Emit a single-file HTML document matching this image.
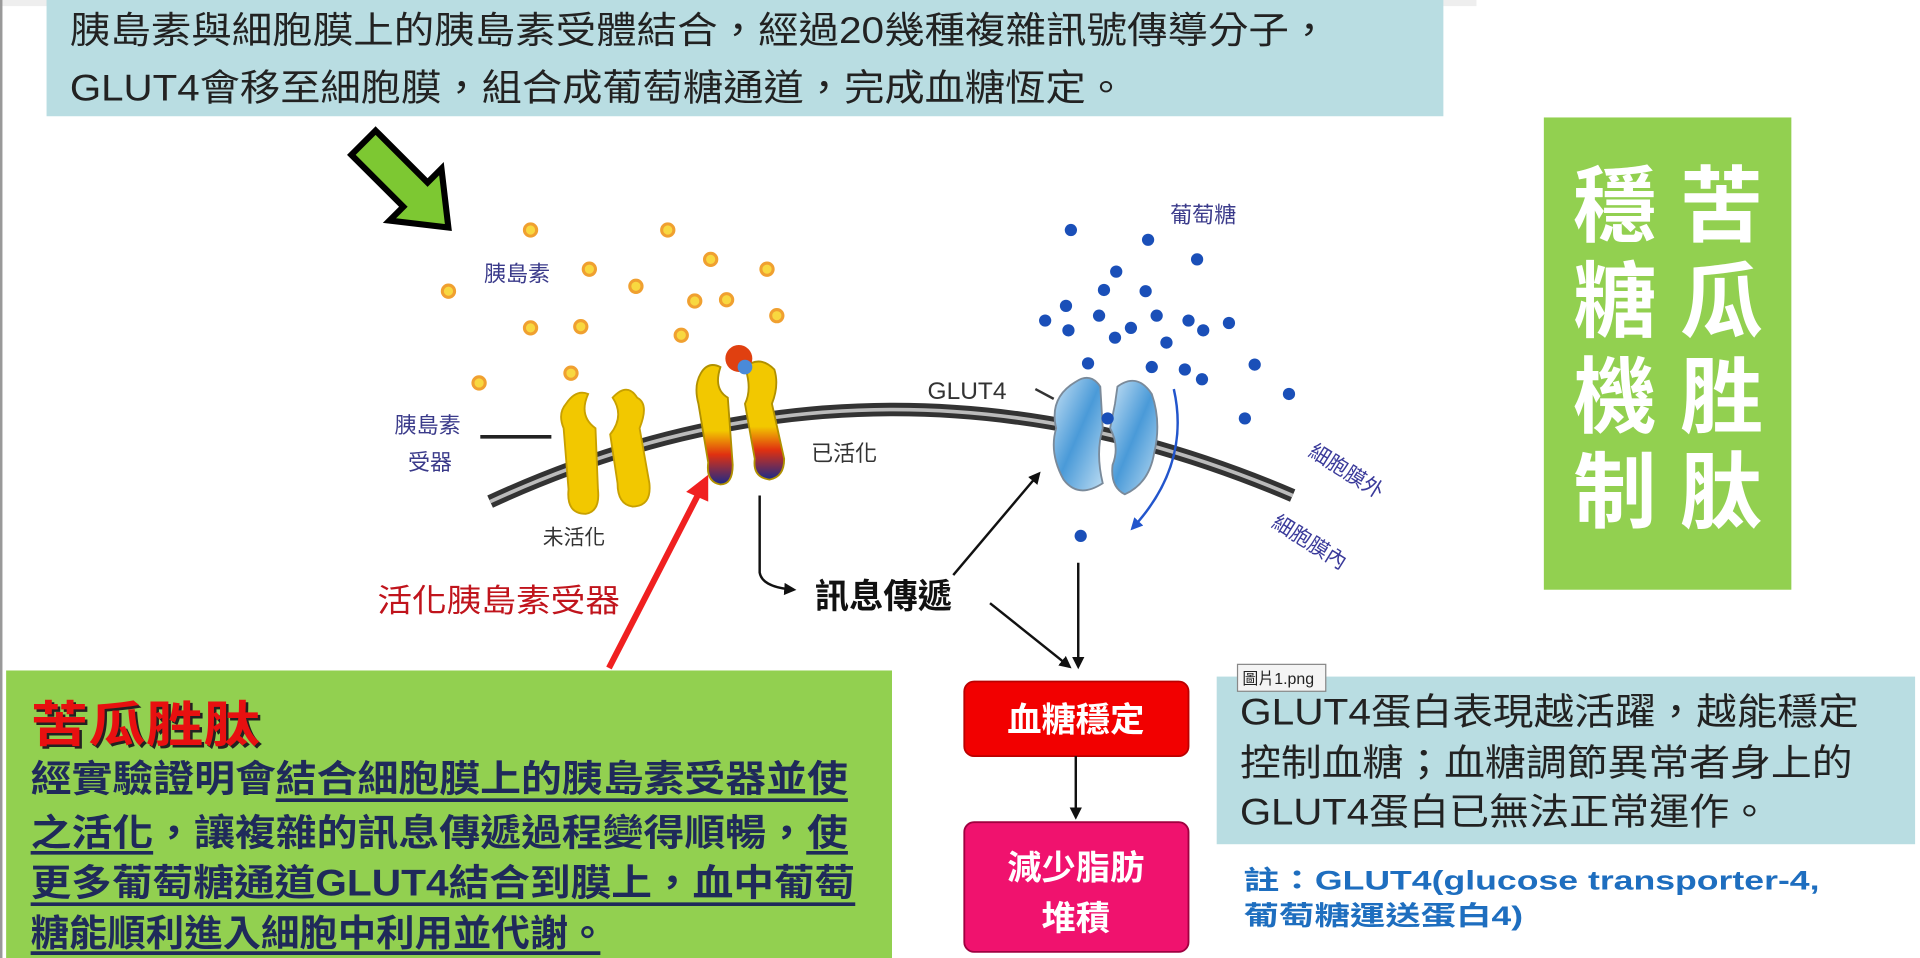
<!DOCTYPE html>
<html><head><meta charset="utf-8"><style>
html,body{margin:0;padding:0;background:#fff;width:1920px;height:958px;overflow:hidden}
svg{display:block}
text{font-family:"Liberation Sans","Noto Sans CJK TC",sans-serif}
</style></head><body>
<svg width="1920" height="958" viewBox="0 0 1567 783" preserveAspectRatio="none" xmlns="http://www.w3.org/2000/svg">
<defs>
<marker id="ah" markerWidth="10" markerHeight="10" refX="8" refY="5" orient="auto" markerUnits="userSpaceOnUse"><path d="M0,0 L10,5 L0,10 z" fill="#111"/></marker>
<marker id="ahb" markerWidth="10" markerHeight="10" refX="8" refY="5" orient="auto" markerUnits="userSpaceOnUse"><path d="M0,0 L10,5 L0,10 z" fill="#2255cc"/></marker>
<linearGradient id="act" x1="0" y1="0" x2="0" y2="1"><stop offset="0.55" stop-color="#f2c800"/><stop offset="0.75" stop-color="#e03010"/><stop offset="1" stop-color="#1a2a8a"/></linearGradient>
<linearGradient id="gl" x1="0" y1="0" x2="1" y2="1"><stop offset="0" stop-color="#c8e2f5"/><stop offset="0.5" stop-color="#4a9ad8"/><stop offset="1" stop-color="#bcdcf2"/></linearGradient>
</defs>
<rect x="0" y="0" width="1205" height="5" fill="#eeeeee"/>
<rect x="0" y="0" width="2" height="783" fill="#999"/>
<!-- top box -->
<rect x="38" y="0" width="1140" height="95" fill="#b9dde2"/>
<text x="57" y="35" font-size="30" fill="#222" textLength="1028" lengthAdjust="spacingAndGlyphs">胰島素與細胞膜上的胰島素受體結合，經過20幾種複雜訊號傳導分子，</text>
<text x="57" y="82" font-size="30" fill="#222" textLength="862" lengthAdjust="spacingAndGlyphs">GLUT4會移至細胞膜，組合成葡萄糖通道，完成血糖恆定。</text>
<!-- green arrow -->
<g transform="translate(332,152) rotate(45)">
<polygon points="-50,-14 10,-14 10,-30 48,0 10,30 10,14 -50,14" fill="#7dc832" stroke="#000" stroke-width="5"/>
</g>
<!-- membrane -->
<path d="M400,410 Q720,262 1055,405" fill="none" stroke="#333" stroke-width="11"/>
<path d="M400,410 Q720,262 1055,405" fill="none" stroke="#bbb" stroke-width="3"/>
<!-- insulin -->
<g fill="#f8d840" stroke="#f0a030" stroke-width="2.5">
<circle cx="433" cy="188" r="5"/><circle cx="545" cy="188" r="5"/><circle cx="580" cy="212" r="5"/><circle cx="626" cy="220" r="5"/><circle cx="366" cy="238" r="5"/><circle cx="481" cy="220" r="5"/><circle cx="519" cy="234" r="5"/><circle cx="567" cy="246" r="5"/><circle cx="593" cy="245" r="5"/><circle cx="634" cy="258" r="5"/><circle cx="433" cy="268" r="5"/><circle cx="474" cy="267" r="5"/><circle cx="556" cy="274" r="5"/><circle cx="391" cy="313" r="5"/><circle cx="466" cy="305" r="5"/>
</g>
<text x="395" y="230" font-size="18" fill="#3a3a8a">胰島素</text>
<!-- glucose -->
<g fill="#1a4fb8">
<circle cx="874" cy="188" r="5"/><circle cx="937" cy="196" r="5"/><circle cx="911" cy="222" r="5"/><circle cx="977" cy="212" r="5"/><circle cx="870" cy="250" r="5"/><circle cx="901" cy="237" r="5"/><circle cx="935" cy="238" r="5"/><circle cx="853" cy="262" r="5"/><circle cx="872" cy="270" r="5"/><circle cx="897" cy="258" r="5"/><circle cx="944" cy="258" r="5"/><circle cx="970" cy="262" r="5"/><circle cx="1003" cy="264" r="5"/><circle cx="910" cy="276" r="5"/><circle cx="923" cy="268" r="5"/><circle cx="952" cy="280" r="5"/><circle cx="982" cy="270" r="5"/><circle cx="888" cy="297" r="5"/><circle cx="940" cy="300" r="5"/><circle cx="967" cy="302" r="5"/><circle cx="981" cy="310" r="5"/><circle cx="1024" cy="298" r="5"/><circle cx="1052" cy="322" r="5"/><circle cx="1016" cy="342" r="5"/><circle cx="891" cy="392" r="5"/><circle cx="882" cy="438" r="5"/>
</g>
<text x="955" y="182" font-size="18" fill="#3a3a8a">葡萄糖</text>
<!-- receptors inactive -->
<path d="M462,330 Q470,318 480,322 Q472,340 486,350 L488,400 Q490,418 478,420 Q462,420 464,400 L460,350 Q455,338 462,330z" fill="#f2c800" stroke="#c8a000" stroke-width="1.5"/>
<path d="M500,325 Q512,312 520,325 Q530,330 522,350 L530,395 Q532,414 516,414 Q504,412 504,395 L498,355 Q510,340 500,325z" fill="#f2c800" stroke="#c8a000" stroke-width="1.5"/>
<!-- receptors active -->
<path d="M572,305 Q578,295 588,300 Q582,318 594,325 L598,380 Q598,396 588,396 Q576,394 578,378 L570,330 Q566,315 572,305z" fill="url(#act)" stroke="#b09000" stroke-width="1.5"/>
<path d="M608,300 Q620,290 632,302 Q636,315 630,330 L640,375 Q640,390 628,392 Q614,390 616,375 L608,330 Q614,318 608,300z" fill="url(#act)" stroke="#b09000" stroke-width="1.5"/>
<circle cx="603" cy="293" r="11" fill="#e04010"/><circle cx="608" cy="300" r="6" fill="#4a8ad8"/>
<text x="322" y="354" font-size="18" fill="#3a3a8a">胰島素</text>
<text x="333" y="384" font-size="18" fill="#3a3a8a">受器</text>
<line x1="392" y1="357" x2="450" y2="357" stroke="#222" stroke-width="3"/>
<text x="443" y="445" font-size="17" fill="#333">未活化</text>
<text x="662" y="377" font-size="18" fill="#333">已活化</text>
<text x="757" y="326" font-size="20" fill="#333">GLUT4</text>
<line x1="845" y1="318" x2="860" y2="326" stroke="#333" stroke-width="2"/>
<!-- GLUT4 -->
<path d="M878,312 Q890,304 898,316 L900,350 Q894,370 900,395 Q880,408 868,392 Q856,370 862,350 Q856,325 878,312z" fill="url(#gl)" stroke="#7a8a9a" stroke-width="1.5"/>
<path d="M912,316 Q928,304 940,322 Q948,345 942,370 Q938,395 918,404 Q906,398 908,380 Q914,365 906,350 L910,330z" fill="url(#gl)" stroke="#7a8a9a" stroke-width="1.5"/>
<circle cx="904" cy="342" r="5" fill="#1a4fb8"/>
<path d="M958,318 Q972,380 924,432" fill="none" stroke="#2255cc" stroke-width="2" marker-end="url(#ahb)"/>
<text transform="translate(1067,372) rotate(32)" font-size="17" fill="#3a3a9a">細胞膜外</text>
<text transform="translate(1037,430) rotate(32)" font-size="17" fill="#3a3a9a">細胞膜內</text>
<!-- black arrows -->
<path d="M620,405 L620,468 Q622,480 648,482" fill="none" stroke="#111" stroke-width="2" marker-end="url(#ah)"/>
<text x="665" y="497" font-size="28" font-weight="bold" fill="#111">訊息傳遞</text>
<line x1="778" y1="470" x2="848" y2="387" stroke="#111" stroke-width="2" marker-end="url(#ah)"/>
<line x1="808" y1="493" x2="873" y2="545" stroke="#111" stroke-width="2" marker-end="url(#ah)"/>
<line x1="880" y1="460" x2="880" y2="545" stroke="#111" stroke-width="2" marker-end="url(#ah)"/>
<text x="308" y="500" font-size="26" fill="#c0141c" textLength="198" lengthAdjust="spacingAndGlyphs">活化胰島素受器</text>
<line x1="497" y1="546" x2="572" y2="400" stroke="#f02020" stroke-width="5"/>
<polygon points="578,388 560,402 578,410" fill="#f02020"/>
<!-- right green -->
<rect x="1260" y="96" width="202" height="386" fill="#92d050"/>
<g font-size="68" font-weight="bold" fill="#fff" text-anchor="middle">
<text x="1318" y="192">穩</text><text x="1318" y="270">糖</text><text x="1318" y="348">機</text><text x="1318" y="426">制</text>
<text x="1405" y="192">苦</text><text x="1405" y="270">瓜</text><text x="1405" y="348">胜</text><text x="1405" y="426">肽</text>
</g>
<!-- bottom green -->
<rect x="5" y="548" width="723" height="235" fill="#92d050"/>
<text x="27" y="608" font-size="40" font-weight="bold" fill="#222" textLength="188" lengthAdjust="spacingAndGlyphs">苦瓜胜肽</text>
<text x="25" y="606" font-size="40" font-weight="bold" fill="#e81010" textLength="188" lengthAdjust="spacingAndGlyphs">苦瓜胜肽</text>
<g font-size="30" font-weight="bold" fill="#1f2a5a">
<text x="25" y="647" textLength="667" lengthAdjust="spacingAndGlyphs">經實驗證明會結合細胞膜上的胰島素受器並使</text>
<text x="25" y="691" textLength="667" lengthAdjust="spacingAndGlyphs">之活化，讓複雜的訊息傳遞過程變得順暢，使</text>
<text x="25" y="732" textLength="673" lengthAdjust="spacingAndGlyphs">更多葡萄糖通道GLUT4結合到膜上，血中葡萄</text>
<text x="25" y="773" textLength="470" lengthAdjust="spacingAndGlyphs">糖能順利進入細胞中利用並代謝。</text>
</g>
<g stroke="#1f2a5a" stroke-width="3">
<line x1="225" y1="654" x2="692" y2="654"/>
<line x1="25" y1="697" x2="125" y2="697"/><line x1="658" y1="697" x2="692" y2="697"/>
<line x1="25" y1="739" x2="698" y2="739"/>
<line x1="25" y1="779" x2="490" y2="779"/>
</g>
<!-- flow boxes -->
<rect x="787" y="557" width="183" height="61" rx="8" fill="#f20000" stroke="#b00" stroke-width="1.5"/>
<text x="878" y="598" font-size="28" font-weight="bold" fill="#fff" text-anchor="middle">血糖穩定</text>
<line x1="878" y1="618" x2="878" y2="668" stroke="#111" stroke-width="2" marker-end="url(#ah)"/>
<rect x="787" y="672" width="183" height="106" rx="8" fill="#f0126e" stroke="#a00040" stroke-width="1.5"/>
<text x="878" y="719" font-size="28" font-weight="bold" fill="#fff" text-anchor="middle">減少脂肪</text>
<text x="878" y="760" font-size="28" font-weight="bold" fill="#fff" text-anchor="middle">堆積</text>
<!-- right blue -->
<rect x="993" y="553" width="570" height="137" fill="#b9dde2"/>
<g font-size="30" fill="#222">
<text x="1012" y="592" textLength="505" lengthAdjust="spacingAndGlyphs">GLUT4蛋白表現越活躍，越能穩定</text>
<text x="1012" y="634" textLength="500" lengthAdjust="spacingAndGlyphs">控制血糖；血糖調節異常者身上的</text>
<text x="1012" y="674" textLength="432" lengthAdjust="spacingAndGlyphs">GLUT4蛋白已無法正常運作。</text>
</g>
<rect x="1010" y="543" width="72" height="22" fill="#f4f4f4" stroke="#888" stroke-width="1"/>
<text x="1014" y="559" font-size="13" fill="#222">圖片1.png</text>
<g font-size="22" font-weight="bold" fill="#1e6ebf">
<text x="1015" y="727" textLength="470" lengthAdjust="spacingAndGlyphs">註：GLUT4(glucose transporter-4,</text>
<text x="1015" y="756" textLength="228" lengthAdjust="spacingAndGlyphs">葡萄糖運送蛋白4)</text>
</g>
</svg>
</body></html>
